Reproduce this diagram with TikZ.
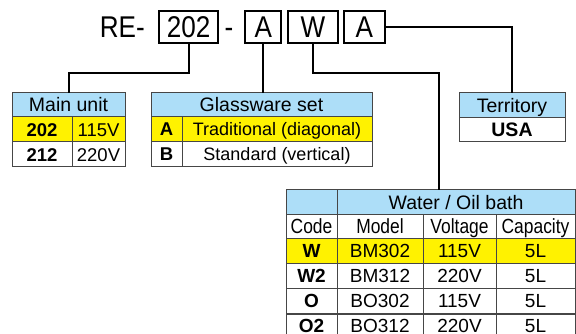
\documentclass[tikz,border=0pt]{standalone}
\usepackage{fontspec}
\setmainfont{Liberation Sans}
\newfontfamily\condfont[FakeStretch=0.87]{Liberation Sans}
\newfontfamily\condfontb[FakeStretch=0.85]{Liberation Sans}
\definecolor{hdr}{RGB}{173,222,248}
\definecolor{hl}{RGB}{255,242,0}
\definecolor{gridc}{RGB}{70,70,70}
\begin{document}
\begin{tikzpicture}[x=1pt,y=-1pt,
  cell/.style={draw=gridc, line width=1pt, rectangle, inner sep=0pt, outer sep=0pt, text=black, text depth=0pt},
  hd/.style={cell, fill=hdr, font=\fontsize{19.5}{20}\selectfont, text height=14pt},
  dmain/.style={cell, font=\fontsize{18.5}{19}\selectfont, text height=13.2pt},
  dglass/.style={cell, font=\fontsize{18}{19}\selectfont, text height=13pt},
  dwat/.style={cell, font=\fontsize{19}{20}\selectfont, text height=13.6pt},
  dcode/.style={cell, font=\condfontb\fontsize{20.5}{21}\selectfont, text height=14.7pt},
  hlf/.style={fill=hl},
  codebox/.style={draw=black, line width=2pt, rectangle, inner sep=0pt, minimum height=31.6pt, font=\condfont\fontsize{30}{31}\selectfont, text height=21.5pt, text depth=0pt},
  conn/.style={draw=black, line width=2pt},
  toptext/.style={inner sep=0pt, font=\condfont\fontsize{30}{31}\selectfont, text height=21.5pt, text depth=0pt}
]
\useasboundingbox (0,0) rectangle (576,334);
\fill[white] (0,0) rectangle (576,334);

% top code line
\node[toptext, anchor=east] (re) at (145,27) {RE-};
\node[codebox, minimum width=58.7pt] (b202) at (188.7,27) {202};
\node[toptext] (dash) at (229,27) {-};
\node[codebox, minimum width=36pt] (bA) at (263.3,27) {A};
\node[codebox, minimum width=50pt] (bW) at (313,27) {W};
\node[codebox, minimum width=41.3pt] (bA2) at (364.3,27) {A};

% Main unit table
\node[hd, minimum width=113pt, minimum height=24pt] (mh) at (68.5,105) {Main unit};
\node[dmain, hlf, minimum width=60pt, minimum height=25pt, font=\fontsize{18.5}{19}\selectfont\bfseries] (m11) at (42,129.5) {202};
\node[dmain, hlf, minimum width=53pt, minimum height=25pt] (m12) at (98.5,129.5) {115V};
\node[dmain, minimum width=60pt, minimum height=25pt, font=\fontsize{18.5}{19}\selectfont\bfseries] (m21) at (42,154.5) {212};
\node[dmain, minimum width=53pt, minimum height=25pt] (m22) at (98.5,154.5) {220V};

% Glassware table
\node[hd, minimum width=221pt, minimum height=24pt] (gh) at (261.5,105) {Glassware set};
\node[dglass, hlf, minimum width=31pt, minimum height=25pt, font=\fontsize{18.5}{19}\selectfont\bfseries] (g11) at (166.5,129.5) {A};
\node[dglass, hlf, minimum width=190pt, minimum height=25pt] (g12) at (277,129.5) {Traditional (diagonal)};
\node[dglass, minimum width=31pt, minimum height=25pt, font=\fontsize{18.5}{19}\selectfont\bfseries] (g21) at (166.5,154.5) {B};
\node[dglass, minimum width=190pt, minimum height=25pt] (g22) at (277,154.5) {Standard (vertical)};

% Territory table
\node[hd, minimum width=106pt, minimum height=25pt] (th) at (512,105.5) {Territory};
\node[dglass, minimum width=106pt, minimum height=24pt, font=\fontsize{19.5}{20}\selectfont\bfseries] (t1) at (512,130) {USA};

% Water / Oil bath table
\node[hd, minimum width=51pt, minimum height=24pt] (wh0) at (311.5,202) {};
\node[hd, minimum width=238pt, minimum height=24pt] (wh) at (456,202) {Water / Oil bath};
\node[dcode, minimum width=51pt, minimum height=24pt] (wc1) at (311.5,226) {Code};
\node[dcode, minimum width=86pt, minimum height=24pt] (wc2) at (380,226) {Model};
\node[dcode, minimum width=73pt, minimum height=24pt] (wc3) at (459.5,226) {Voltage};
\node[dcode, minimum width=79pt, minimum height=24pt] (wc4) at (535.5,226) {Capacity};

\node[dwat, hlf, minimum width=51pt, minimum height=25pt, font=\fontsize{19}{20}\selectfont\bfseries] (wa1) at (311.5,250.5) {W};
\node[dwat, hlf, minimum width=86pt, minimum height=25pt] (wa2) at (380,250.5) {BM302};
\node[dwat, hlf, minimum width=73pt, minimum height=25pt] (wa3) at (459.5,250.5) {115V};
\node[dwat, hlf, minimum width=79pt, minimum height=25pt] (wa4) at (535.5,250.5) {5L};

\node[dwat, minimum width=51pt, minimum height=25pt, font=\fontsize{19}{20}\selectfont\bfseries] (wb1) at (311.5,275.5) {W2};
\node[dwat, minimum width=86pt, minimum height=25pt] (wb2) at (380,275.5) {BM312};
\node[dwat, minimum width=73pt, minimum height=25pt] (wb3) at (459.5,275.5) {220V};
\node[dwat, minimum width=79pt, minimum height=25pt] (wb4) at (535.5,275.5) {5L};

\node[dwat, minimum width=51pt, minimum height=26pt, font=\fontsize{19}{20}\selectfont\bfseries] (wd1) at (311.5,301) {O};
\node[dwat, minimum width=86pt, minimum height=26pt] (wd2) at (380,301) {BO302};
\node[dwat, minimum width=73pt, minimum height=26pt] (wd3) at (459.5,301) {115V};
\node[dwat, minimum width=79pt, minimum height=26pt] (wd4) at (535.5,301) {5L};

\node[dwat, minimum width=51pt, minimum height=25pt, font=\fontsize{19}{20}\selectfont\bfseries] (we1) at (311.5,325.5) {O2};
\node[dwat, minimum width=86pt, minimum height=25pt] (we2) at (380,325.5) {BO312};
\node[dwat, minimum width=73pt, minimum height=25pt] (we3) at (459.5,325.5) {220V};
\node[dwat, minimum width=79pt, minimum height=25pt] (we4) at (535.5,325.5) {5L};

% connectors
\coordinate (j1) at (0,73);
\coordinate (wx) at (439,0);
\draw[conn] (b202.south) -- (b202.south |- j1) -| (mh.north);
\draw[conn] (bA.south) -- (bA.south |- gh.north);
\draw[conn] (bW.south) -- (bW.south |- j1) -- (wx |- j1) -- (wx |- wh.north);
\draw[conn] (bA2.east) -| (th.north);
\end{tikzpicture}
\end{document}
